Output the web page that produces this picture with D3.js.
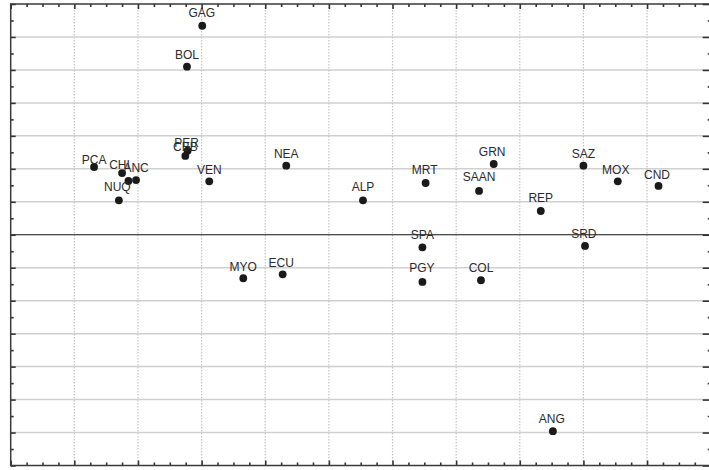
<!DOCTYPE html>
<html>
<head>
<meta charset="utf-8">
<script src="https://cdn.jsdelivr.net/npm/d3@7"></script>
<style>
  html, body { margin: 0; padding: 0; background: #fff; }
  svg { display: block; }
</style>
</head>
<body>
<div id="chart"></div>
<script>
// ---- data ----
const labels = ["GAG","BOL","PER","CBB","PCA","CHI","","ANC","NUQ","VEN","NEA","MYO","ECU","ALP","MRT","SPA","PGY","SAAN","GRN","COL","REP","SAZ","SRD","MOX","CND","ANG"];
const xValues = [-0.199,-0.223,-0.222,-0.2256,-0.369,-0.325,-0.315,-0.303,-0.330,-0.188,-0.067,-0.1345,-0.0726,0.0536,0.152,0.147,0.147,0.236,0.259,0.239,0.333,0.400,0.4025,0.454,0.518,0.352];
const yValues = [0.634,0.510,0.255,0.239,0.2056,0.187,0.163,0.166,0.1045,0.162,0.2095,-0.132,-0.120,0.1045,0.157,-0.038,-0.143,0.133,0.2147,-0.138,0.072,0.2095,-0.034,0.162,0.148,-0.596];
const xDomain = [-0.5, 0.6];
const yDomain = [-0.7, 0.7];
const xMajorTicks = d3.range(-5, 7).map(d => d / 10);
const yMajorTicks = d3.range(-7, 8).map(d => d / 10);
const xMinorTicks = d3.range(-20, 25).map(d => d / 40);
const yMinorTicks = d3.range(-14, 15).map(d => d / 20);
// label nudges (relative to default placement above the point)
const labelNudge = {
  PCA: [0, 5], CHI: [-2.6, 4], PER: [-1, 4], CBB: [0, 2.7], NUQ: [-1.5, -1],
  ALP: [0, -1.6], MRT: [-1, -1.3], SAAN: [0, -2.3], PGY: [-0.5, -1.7],
  SRD: [-1.2, 0], MOX: [-2, 0.7], CND: [-1.5, 0.7], ECU: [-1.4, 0.7],
  GRN: [-1.5, 0], ANG: [-1, 0], VEN: [0, 0.7], MYO: [0, 0.7], REP: [0, -1], GAG: [-0.5, -0.4]
};

// ---- layout ----
const W = 709, H = 470;
const mLeft = 10.7, mRight = 710.7, mTop = 4, mBottom = 465.5;

const svg = d3.select("#chart").append("svg").attr("width", W).attr("height", H);

const x = d3.scaleLinear().domain(xDomain).range([mLeft, mRight]);
const y = d3.scaleLinear().domain(yDomain).range([mBottom, mTop]);

// horizontal grid (solid light)
svg.append("g").selectAll("line")
  .data(yMajorTicks.filter(v => Math.abs(v) > 1e-9 && v > yDomain[0] + 1e-9 && v < yDomain[1] - 1e-9))
  .join("line")
  .attr("x1", mLeft).attr("x2", mRight)
  .attr("y1", d => y(d)).attr("y2", d => y(d))
  .attr("stroke", "#d0d0d0").attr("stroke-width", 1.5);

// vertical grid (dotted)
svg.append("g").selectAll("line")
  .data(xMajorTicks.filter(v => v > xDomain[0] + 1e-9 && v < xDomain[1] - 1e-9))
  .join("line")
  .attr("x1", d => x(d)).attr("x2", d => x(d))
  .attr("y1", mTop).attr("y2", mBottom)
  .attr("stroke", "#c4c4c4").attr("stroke-width", 1.2)
  .attr("stroke-dasharray", "1.5,1.5");

// zero line
svg.append("line")
  .attr("x1", mLeft).attr("x2", mRight)
  .attr("y1", y(0)).attr("y2", y(0))
  .attr("stroke", "#111").attr("stroke-width", 1.2);

// axes with inward ticks
function addAxis(axisFn, scale, ticks, size, transform) {
  const g = svg.append("g").attr("transform", transform)
    .call(axisFn(scale).tickValues(ticks).tickSize(-size).tickFormat(""));
  g.select(".domain").remove();
  g.selectAll(".tick line").attr("stroke", "#333").attr("stroke-width", 1.6);
}
const xMinorOnly = xMinorTicks.filter(v => !xMajorTicks.some(m => Math.abs(m - v) < 1e-9));
const yMinorOnly = yMinorTicks.filter(v => !yMajorTicks.some(m => Math.abs(m - v) < 1e-9));
addAxis(d3.axisBottom, x, xMajorTicks, 5, `translate(0,${mBottom})`);
addAxis(d3.axisBottom, x, xMinorOnly, 3, `translate(0,${mBottom})`);
addAxis(d3.axisTop, x, xMajorTicks, 5, `translate(0,${mTop})`);
addAxis(d3.axisTop, x, xMinorOnly, 3, `translate(0,${mTop})`);
addAxis(d3.axisLeft, y, yMajorTicks, 5, `translate(${mLeft},0)`);
addAxis(d3.axisLeft, y, yMinorOnly, 3, `translate(${mLeft},0)`);
addAxis(d3.axisRight, y, yMajorTicks, 8, `translate(${mRight},0)`);
addAxis(d3.axisRight, y, yMinorOnly, 3, `translate(${mRight},0)`);

// frame
svg.append("rect")
  .attr("x", mLeft).attr("y", mTop)
  .attr("width", mRight - mLeft).attr("height", mBottom - mTop)
  .attr("fill", "none").attr("stroke", "#3a3a3a").attr("stroke-width", 1.5);

// points
const pts = labels.map((l, i) => ({ label: l, x: xValues[i], y: yValues[i] }));

svg.append("g").selectAll("circle")
  .data(pts).join("circle")
  .attr("cx", d => x(d.x)).attr("cy", d => y(d.y))
  .attr("r", 3.9).attr("fill", "#1a1a1a");

svg.append("g").selectAll("text")
  .data(pts.filter(d => d.label)).join("text")
  .attr("x", d => x(d.x) + (labelNudge[d.label] ? labelNudge[d.label][0] : 0))
  .attr("y", d => y(d.y) - 8 + (labelNudge[d.label] ? labelNudge[d.label][1] : 0))
  .attr("text-anchor", "middle")
  .attr("font-family", "'Liberation Sans', Arial, sans-serif")
  .attr("font-size", 12)
  .attr("fill", "#2b2b2b")
  .text(d => d.label);
</script>
</body>
</html>
